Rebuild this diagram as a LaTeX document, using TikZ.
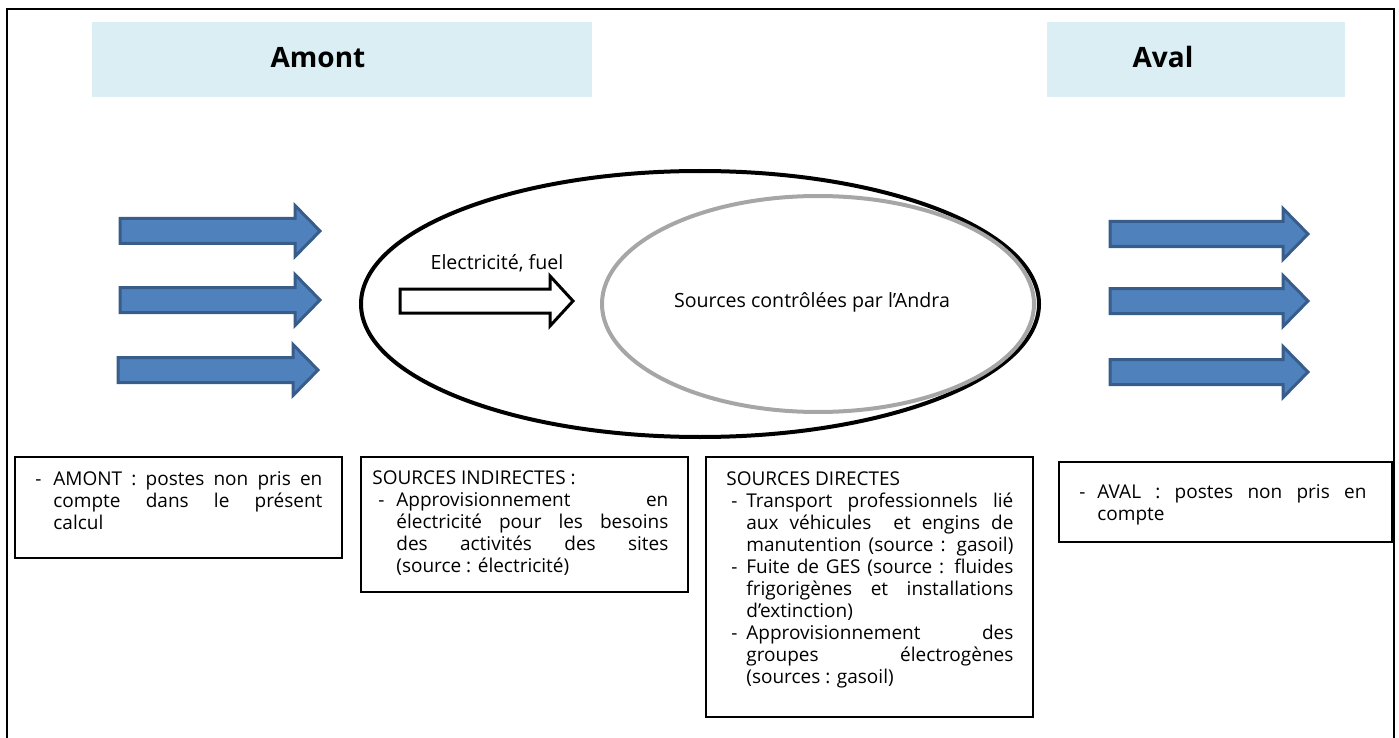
\documentclass[tikz,border=0pt]{standalone}
\usepackage{fontspec}
\setmainfont{Open Sans}
\definecolor{hdrblue}{HTML}{DAEEF3}
\definecolor{arrfill}{HTML}{4F81BD}
\definecolor{arrline}{HTML}{385D8A}
\definecolor{innergray}{HTML}{A6A6A6}
\newcommand\jl[2]{\makebox[#1][s]{#2}}
\newcommand\bluearr[3]{%
  \draw[bluearrow] (#1,#3-12.5) -- (#2-25,#3-12.5) -- (#2-25,#3-25.5) -- (#2,#3)
    -- (#2-25,#3+25.5) -- (#2-25,#3+12.5) -- (#1,#3+12.5) -- cycle;}
\begin{document}
\begin{tikzpicture}[x=0.5pt,y=-0.5pt,
  bluearrow/.style={fill=arrfill,draw=arrline,line width=1.5pt,line join=miter},
  hdr/.style={fill=hdrblue,draw=none},
  hdrtext/.style={font=\fontsize{14}{16}\selectfont\bfseries,inner sep=0pt},
  infobox/.style={draw=black,line width=0.9pt,fill=white},
  boxtext/.style={font=\fontsize{9.5}{11}\selectfont,align=left,inner sep=0pt,anchor=north west},
  midtext/.style={font=\fontsize{9.8}{11}\selectfont,inner sep=0pt}]
\useasboundingbox (0,0) rectangle (1399,738);
% outer frame
\draw[line width=1.25pt] (7,745) -- (7,9) -- (1394,9) -- (1394,745);
% headers
\fill[hdr] (92,22) rectangle (592,97);
\node[hdrtext] (amont) at (318,57.5) {Amont};
\fill[hdr] (1047,22) rectangle (1345,97);
\node[hdrtext] (aval) at (1163,57.5) {Aval};
% blue arrows
\bluearr{120}{320}{231}
\bluearr{120}{320}{300}
\bluearr{118}{318}{370}
\bluearr{1110}{1308}{234}
\bluearr{1110}{1308}{301}
\bluearr{1110}{1308}{372}
% ellipses
\draw[line width=2pt] (700,304) ellipse [x radius=339, y radius=133];
\draw[line width=2pt,draw=innergray] (818,304) ellipse [x radius=216, y radius=108];
% white arrow
\draw[fill=white,line width=1.5pt,line join=miter] (400,289) -- (550,289) -- (550,276) -- (573,301)
  -- (550,326) -- (550,313) -- (400,313) -- cycle;
\node[midtext] (elec) at (497,263) {Electricité, fuel};
\node[midtext] (andra) at (812,302) {Sources contrôlées par l’Andra};
% bottom boxes
\draw[infobox] (15,457) rectangle (342,558);
\node[boxtext] (t1) at (35,469.4) {%
  \strut\makebox[9pt][l]{-}\jl{134.5pt}{AMONT : postes non pris en}\\
  \hspace*{9pt}\jl{134.5pt}{compte dans le présent}\\
  \hspace*{9pt}calcul};
\draw[infobox] (361,457) rectangle (688,592);
\node[boxtext] (t2) at (372,468.4) {%
  \strut SOURCES INDIRECTES :\\
  \hspace*{3pt}\makebox[9pt][l]{-}\jl{136pt}{Approvisionnement en}\\
  \hspace*{12pt}\jl{136pt}{électricité pour les besoins}\\
  \hspace*{12pt}\jl{136pt}{des activités des sites}\\
  \hspace*{12pt}(source : électricité)};
\draw[infobox] (706,457) rectangle (1033,717);
\node[boxtext] (t3) at (726,469.4) {%
  \strut SOURCES DIRECTES\\
  \hspace*{2.5pt}\makebox[7.5pt][l]{-}\jl{133.5pt}{Transport professionnels lié}\\
  \hspace*{10pt}\jl{133.5pt}{aux véhicules \ et engins de}\\
  \hspace*{10pt}\jl{133.5pt}{manutention (source : gasoil)}\\
  \hspace*{2.5pt}\makebox[7.5pt][l]{-}\jl{133.5pt}{Fuite de GES (source : fluides}\\
  \hspace*{10pt}\jl{133.5pt}{frigorigènes et installations}\\
  \hspace*{10pt}d’extinction)\\
  \hspace*{2.5pt}\makebox[7.5pt][l]{-}\jl{133.5pt}{Approvisionnement des}\\
  \hspace*{10pt}\jl{133.5pt}{groupes électrogènes}\\
  \hspace*{10pt}(sources : gasoil)};
\draw[infobox] (1059,462) rectangle (1392,542);
\node[boxtext] (t4) at (1079,482.4) {%
  \strut\makebox[9pt][l]{-}\jl{134.5pt}{AVAL : postes non pris en}\\
  \hspace*{9pt}compte};
\end{tikzpicture}
\end{document}
